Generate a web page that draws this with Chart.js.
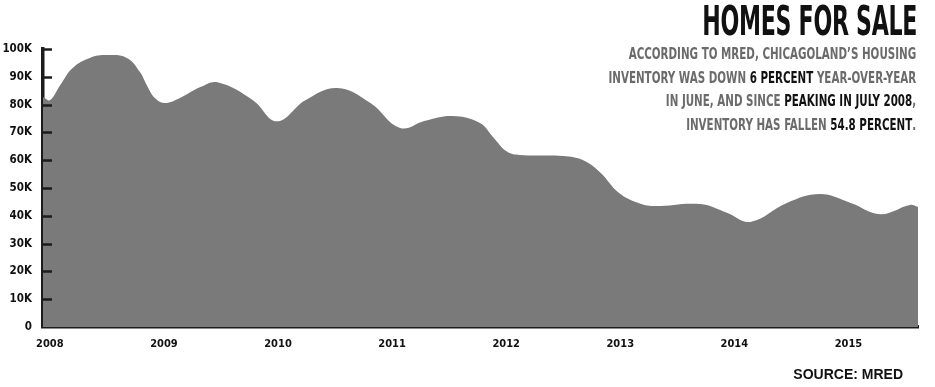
<!DOCTYPE html>
<html>
<head>
<meta charset="utf-8">
<script src="https://cdn.jsdelivr.net/npm/chart.js@4/dist/chart.umd.min.js"></script>
<style>
  html, body { margin: 0; padding: 0; background: #fff; }
  #wrap { position: relative; width: 935px; height: 387px; overflow: hidden; }
  #c { position: absolute; left: 0; top: 0; }
  .cond { font-family: "Liberation Sans Narrow", "DejaVu Sans Condensed", "Liberation Sans", sans-serif; font-weight: bold; }
  #title { position: absolute; right: 18px; top: 1px; font-size: 41px; line-height: 41px; color: #111; letter-spacing: -0.5px; transform-origin: right top; transform: scaleX(0.6); white-space: nowrap; }
  #sub { position: absolute; right: 19px; top: 42px; font-size: 16px; line-height: 23.5px; color: #6b6b6b; text-align: right; white-space: nowrap; transform-origin: right top; transform: scaleX(0.717); }
  #sub b { color: #111; }
  #source { position: absolute; right: 32px; top: 366px; font-family: "Liberation Sans", Arial, sans-serif; font-weight: bold; font-size: 14px; color: #111; }
</style>
</head>
<body>
<div id="wrap">
  <canvas id="c" width="935" height="387"></canvas>
  <div id="title" class="cond">HOMES FOR SALE</div>
  <div id="sub" class="cond">ACCORDING TO MRED, CHICAGOLAND’S HOUSING<br>INVENTORY WAS DOWN <b>6 PERCENT</b> YEAR-OVER-YEAR<br>IN JUNE, AND SINCE <b>PEAKING IN JULY 2008</b>,<br>INVENTORY HAS FALLEN <b>54.8 PERCENT</b>.</div>
  <div id="source">SOURCE: MRED</div>
</div>
<script>
// Time positions (decimal years) and homes-for-sale inventory (thousands)
const timePoints = [2007.94, 2008.00, 2008.09, 2008.20, 2008.35, 2008.50, 2008.675, 2008.79, 2008.85, 2008.92, 2009.01, 2009.14, 2009.32, 2009.47, 2009.78, 2009.99, 2010.24, 2010.52, 2010.81, 2011.07, 2011.29, 2011.53, 2011.77, 2011.886, 2012.01, 2012.12, 2012.50, 2012.675, 2012.82, 2012.99, 2013.16, 2013.29, 2013.70, 2013.94, 2014.14, 2014.46, 2014.75, 2015.02, 2015.28, 2015.54, 2015.61];
const inventoryK = [82.7, 81.6, 87.0, 93.2, 96.8, 97.8, 96.8, 91.7, 87.0, 82.4, 80.6, 82.4, 86.3, 88.0, 81.6, 74.0, 81.6, 86.0, 80.6, 71.6, 74.2, 75.9, 73.4, 68.3, 63.0, 61.9, 61.5, 60.0, 55.8, 48.2, 44.6, 43.5, 44.2, 41.0, 37.8, 44.6, 47.8, 44.6, 40.6, 43.9, 43.2];
const yearTicks = [2008, 2009, 2010, 2011, 2012, 2013, 2014, 2015];
const yTickValues = [0, 10, 20, 30, 40, 50, 60, 70, 80, 90, 100];

const axisColor = '#1c1c1c';
const fontFamily = '"Liberation Sans Narrow", "DejaVu Sans Condensed", "Liberation Sans", sans-serif';

const innerTicks = {
  id: 'innerTicks',
  afterDraw(chart) {
    const y = chart.scales.y, ctx = chart.ctx, left = chart.chartArea.left;
    ctx.save();
    ctx.strokeStyle = axisColor;
    ctx.lineWidth = 2.5;
    yTickValues.forEach(v => {
      if (v === 0) return;
      const py = Math.round(y.getPixelForValue(v)) + 0.5;
      ctx.beginPath();
      ctx.moveTo(left, py);
      ctx.lineTo(left + 9, py);
      ctx.stroke();
    });
    ctx.restore();
  }
};

new Chart(document.getElementById('c'), {
  type: 'line',
  data: {
    datasets: [{
      data: timePoints.map((t, i) => ({ x: t, y: inventoryK[i] })),
      fill: 'origin',
      backgroundColor: '#7a7a7a',
      borderWidth: 0,
      borderColor: 'rgba(0,0,0,0)',
      pointRadius: 0,
      tension: 0.4
    }]
  },
  options: {
    responsive: false,
    animation: false,
    events: [],
    layout: { padding: { top: 49, right: 17, bottom: 0, left: 0 } },
    plugins: { legend: { display: false }, tooltip: { enabled: false }, title: { display: false } },
    scales: {
      x: {
        type: 'linear',
        min: 2007.94,
        max: 2015.61,
        z: 1,
        afterBuildTicks: s => { s.ticks = yearTicks.map(v => ({ value: v })); },
        afterFit: s => { s.height = 60; },
        grid: { display: false },
        border: { display: true, color: axisColor, width: 3.5 },
        ticks: { color: '#111', font: { family: fontFamily, weight: 'bold', size: 11 }, padding: 3, maxRotation: 0, autoSkip: false, callback: v => String(v) }
      },
      y: {
        min: 0,
        max: 100,
        z: 1,
        afterBuildTicks: s => { s.ticks = yTickValues.map(v => ({ value: v })); },
        afterFit: s => { s.width = 43; },
        grid: { display: false },
        border: { display: true, color: axisColor, width: 3.5 },
        ticks: { color: '#111', font: { family: fontFamily, weight: 'bold', size: 11.5 }, padding: 3, callback: v => v === 0 ? '0' : v + 'K' }
      }
    }
  },
  plugins: [innerTicks]
});
</script>
</body>
</html>
